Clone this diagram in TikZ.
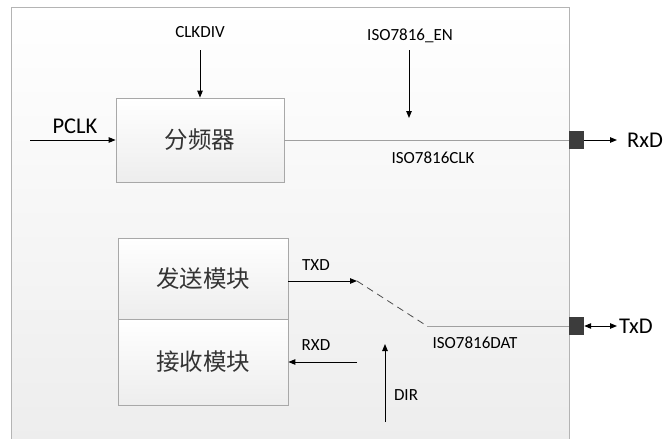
\documentclass[tikz,border=0pt]{standalone}
\usepackage{fontspec}
\setmainfont{Carlito}
\newfontfamily\cjk{Noto Sans CJK SC}
\usetikzlibrary{arrows.meta}
\definecolor{frameC}{HTML}{B4B4B4}
\definecolor{boxC}{HTML}{A8A8A8}
\definecolor{portC}{HTML}{3C3C3C}
\definecolor{wireC}{HTML}{A0A0A0}
\tikzset{
  blockbox/.style={draw=boxC, line width=0.8pt, top color=white, bottom color=black!7, minimum width=168pt, font=\cjk\fontsize{23.5}{25}\selectfont, text=black!80},
  portbox/.style={fill=portC, draw=none, minimum width=15pt, minimum height=18pt, inner sep=0pt},
  sig/.style={line width=0.9pt, -{Triangle[length=7pt,width=5.5pt]}},
  lbl/.style={font=\fontsize{17}{19}\selectfont, inner sep=0pt},
  biglbl/.style={font=\fontsize{22.5}{24}\selectfont, inner sep=0pt},
}
\begin{document}
\begin{tikzpicture}[x=1pt,y=-1pt]
\useasboundingbox (0,0) rectangle (665,439);
% frame
\shade[top color=white, bottom color=black!7] (11,7) rectangle (569,439);
\draw[frameC, line width=0.8pt] (11,439) -- (11,7) -- (569,7) -- (569,439);
% blocks
\node[blockbox, minimum height=84pt] (div) at (200,140) {分频器};
\node[blockbox, minimum width=170pt, minimum height=81pt] (send) at (203,278.5) {发送模块};
\node[blockbox, minimum width=170pt, minimum height=86pt] (recv) at (203,362) {接收模块};
% ports
\node[portbox] (rxport) at (576.5,140) {};
\node[portbox] (txport) at (576.5,326) {};
% labels
\node[lbl] (clkdivl) at (200,32) {CLKDIV};
\node[biglbl] (pclkl) at (75,126) {PCLK};
\node[lbl] (enl) at (410,36) {ISO7816\_EN};
\node[lbl] (clkl) at (433,158) {ISO7816CLK};
\node[biglbl] (rxdl) at (645,140) {RxD};
\node[lbl] (txdl) at (316,265) {TXD};
\node[lbl] (rxdsl) at (316,345) {RXD};
\node[lbl] (datl) at (475,343) {ISO7816DAT};
\node[biglbl] (txdol) at (636,326) {TxD};
\node[lbl] (dirl) at (406,395) {DIR};
% coordinates
\coordinate (pclks) at (30,140);
\coordinate (clkdivs) at (200,50);
\coordinate (ens) at (409,50);
\coordinate (ene) at (409,118);
\coordinate (rxe) at (617,140);
\coordinate (txe) at (617,326);
\coordinate (sw1) at (357,281);
\coordinate (sw2) at (427,326);
\coordinate (rxs) at (357,362);
\coordinate (dirs) at (385,422);
\coordinate (dire) at (385,344);
% connectors
\draw[sig] (pclks) -- (div.west);
\draw[sig] (clkdivs) -- (div.north);
\draw[sig] (ens) -- (ene);
\draw[wireC, line width=0.8pt] (div.east) -- (rxport.west);
\draw[sig] (rxport.east) -- (rxe);
\draw[sig] (send.east |- sw1) -- (sw1);
\draw[black!70, line width=0.8pt, dash pattern=on 7pt off 5pt] (sw1) -- (sw2);
\draw[wireC, line width=0.8pt] (sw2) -- (txport.west);
\draw[line width=0.9pt, {Triangle[length=7pt,width=5.5pt]}-{Triangle[length=7pt,width=5.5pt]}] (txport.east) -- (txe);
\draw[sig] (rxs) -- (recv.east);
\draw[sig] (dirs) -- (dire);
\end{tikzpicture}
\end{document}
